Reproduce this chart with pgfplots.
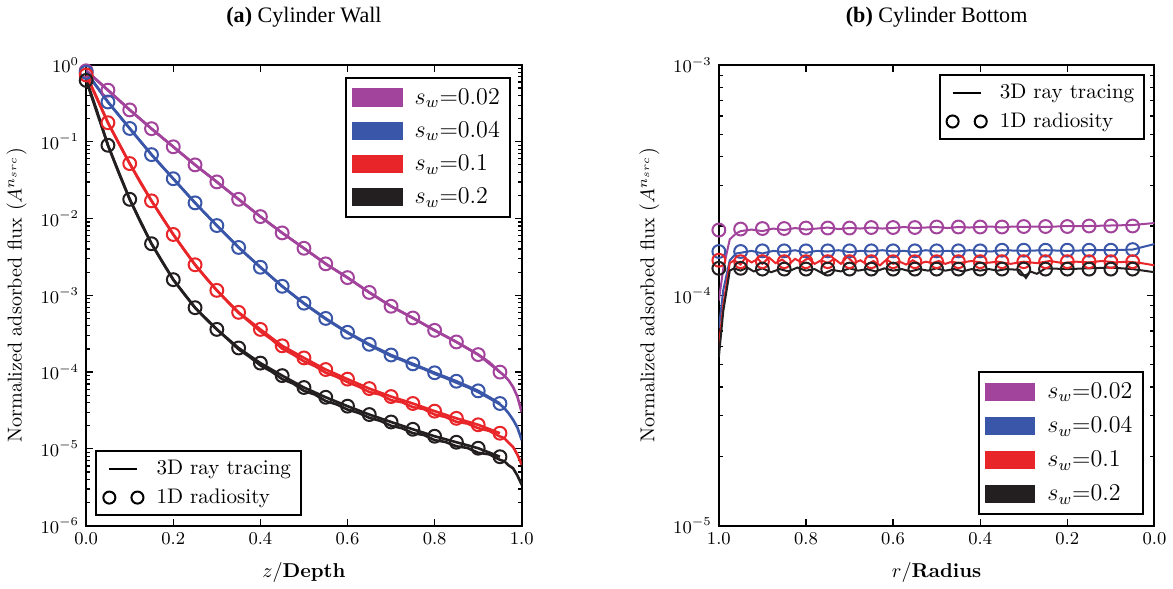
\documentclass[border=0pt]{standalone}
\usepackage{fontspec}
\newfontfamily\timesfont{Liberation Serif}
\usepackage{pgfplots}
\pgfplotsset{compat=1.18}

\definecolor{cpurple}{RGB}{162,68,156}
\definecolor{cblue}{RGB}{58,86,168}
\definecolor{cred}{RGB}{232,38,42}
\definecolor{cblack}{RGB}{35,31,32}

\begin{document}
\begin{tikzpicture}
% ---------------- (a) Cylinder Wall ----------------
\begin{axis}[
  scale only axis, width=217pt, height=229.5pt,
  ymode=log, xmin=0, xmax=1, ymin=1e-6, ymax=1,
  axis line style={line width=1pt},
  major tick length=3.5pt, minor tick length=2pt,
  tick align=inside, tick style={black, line width=0.6pt},
  xtick={0,0.2,0.4,0.6,0.8,1},
  xticklabels={0.0,0.2,0.4,0.6,0.8,1.0},
  tick label style={font=\fontsize{9}{10}\selectfont},
  label style={font=\fontsize{10}{12}\selectfont},
  xlabel style={yshift=-1.5pt},
  title style={font=\timesfont\fontsize{11}{13}\selectfont, yshift=9.5pt},
  title={\textbf{(a)} Cylinder Wall},
  xlabel={$z/$\textbf{Depth}},
  ylabel={Normalized adsorbed flux ($A^{n_{src}}$)},
  legend style={font=\fontsize{12}{14}\selectfont, draw=black, line width=1pt,
    at={(0.975,0.974)}, anchor=north east, row sep=3pt, inner xsep=3pt, inner ysep=3pt},
  legend cell align=left,
  legend image code/.code={\fill[#1] (0pt,-4.5pt) rectangle (25pt,4.5pt); \path (29pt,0pt);},
]
\addlegendimage{fill=cpurple, draw=none}\addlegendentry{$s_w$=0.02}
\addlegendimage{fill=cblue, draw=none}\addlegendentry{$s_w$=0.04}
\addlegendimage{fill=cred, draw=none}\addlegendentry{$s_w$=0.1}
\addlegendimage{fill=cblack, draw=none}\addlegendentry{$s_w$=0.2}

% 3D ray tracing
\addplot[cpurple, line width=1.3pt, forget plot] coordinates {
  (0,0.85)(0.05,0.47)(0.1,0.26)(0.15,0.148)(0.2,0.086)(0.25,0.05)(0.3,0.03)
  (0.35,0.0178)(0.4,0.0106)(0.45,0.0065)(0.5,0.0041)(0.55,0.00257)(0.6,0.0017)
  (0.65,0.00109)(0.7,7.2e-4)(0.75,5.07e-4)(0.8,3.5e-4)(0.85,2.47e-4)(0.9,1.69e-4)
  (0.925,1.35e-4)(0.95,1.0e-4)(0.96,9.0e-5)(0.97,7.8e-5)(0.98,6.4e-5)(0.99,4.8e-5)(1.0,3.0e-5)
};
\addplot[cblue, line width=1.3pt, forget plot] coordinates {
  (0,0.82)(0.05,0.33)(0.1,0.149)(0.15,0.068)(0.2,0.033)(0.25,0.016)(0.3,0.0081)
  (0.35,0.0042)(0.4,0.00232)(0.45,0.00131)(0.5,7.8e-4)(0.55,4.9e-4)(0.6,3.25e-4)
  (0.65,2.25e-4)(0.7,1.62e-4)(0.725,1.43e-4)(0.75,1.24e-4)(0.775,1.1e-4)(0.8,9.5e-5)
  (0.825,8.4e-5)(0.85,7.3e-5)(0.875,6.4e-5)(0.9,5.5e-5)(0.925,4.6e-5)(0.95,3.8e-5)
  (0.96,3.4e-5)(0.97,2.9e-5)(0.98,2.4e-5)(0.99,1.9e-5)(1.0,1.3e-5)
};
\addplot[cred, line width=1.3pt, forget plot] coordinates {
  (0,0.75)(0.025,0.37)(0.05,0.177)(0.075,0.095)(0.1,0.052)(0.125,0.029)(0.15,0.017)
  (0.175,0.0102)(0.2,0.0062)(0.225,0.0039)(0.25,0.0025)(0.275,0.00168)(0.3,0.00116)
  (0.325,8.2e-4)(0.35,5.9e-4)(0.375,4.5e-4)(0.4,3.38e-4)(0.425,2.68e-4)(0.45,2.02e-4)
  (0.475,1.7e-4)(0.5,1.38e-4)(0.525,1.2e-4)(0.55,9.8e-5)(0.575,8.7e-5)(0.6,7.4e-5)
  (0.625,6.5e-5)(0.65,5.5e-5)(0.675,5.1e-5)(0.7,4.3e-5)(0.725,4.05e-5)(0.75,3.5e-5)
  (0.775,3.3e-5)(0.8,2.8e-5)(0.825,2.6e-5)(0.85,2.25e-5)(0.875,2.14e-5)(0.9,1.86e-5)
  (0.925,1.72e-5)(0.95,1.45e-5)(0.96,1.38e-5)(0.97,1.2e-5)(0.98,1.06e-5)(0.99,8.4e-6)(1.0,6.2e-6)
};
\addplot[cblack, line width=1.3pt, forget plot] coordinates {
  (0,0.65)(0.025,0.25)(0.05,0.09)(0.075,0.039)(0.1,0.0178)(0.125,0.0089)(0.15,0.0047)
  (0.175,0.0027)(0.2,0.0016)(0.225,0.00104)(0.25,6.9e-4)(0.275,4.9e-4)(0.3,3.6e-4)
  (0.325,2.68e-4)(0.35,1.98e-4)(0.375,1.58e-4)(0.4,1.22e-4)(0.425,1.02e-4)(0.45,8.1e-5)
  (0.475,7.1e-5)(0.5,5.7e-5)(0.525,5.1e-5)(0.55,4.2e-5)(0.575,3.8e-5)(0.6,3.25e-5)
  (0.625,2.95e-5)(0.65,2.54e-5)(0.675,2.32e-5)(0.7,2.0e-5)(0.725,1.86e-5)(0.75,1.6e-5)
  (0.775,1.52e-5)(0.8,1.3e-5)(0.825,1.23e-5)(0.85,1.08e-5)(0.875,1.03e-5)(0.9,8.9e-6)
  (0.925,8.5e-6)(0.95,7.2e-6)(0.96,6.9e-6)(0.97,6.1e-6)(0.98,5.6e-6)(0.99,4.5e-6)(1.0,3.4e-6)
};

% 1D radiosity
\addplot[cpurple, line width=1.3pt, mark=o, mark size=3.2pt, mark options={fill=white, line width=1pt}, forget plot] coordinates {
  (0,0.84)(0.05,0.47)(0.1,0.26)(0.15,0.148)(0.2,0.086)(0.25,0.05)(0.3,0.03)
  (0.35,0.0178)(0.4,0.0106)(0.45,0.0065)(0.5,0.0041)(0.55,0.00257)(0.6,0.0017)
  (0.65,0.00109)(0.7,7.2e-4)(0.75,5.07e-4)(0.8,3.5e-4)(0.85,2.47e-4)(0.9,1.69e-4)(0.95,1.0e-4)
};
\addplot[cblue, line width=1.3pt, mark=o, mark size=3.2pt, mark options={fill=white, line width=1pt}, forget plot] coordinates {
  (0,0.8)(0.05,0.33)(0.1,0.149)(0.15,0.068)(0.2,0.033)(0.25,0.016)(0.3,0.0081)
  (0.35,0.0042)(0.4,0.00232)(0.45,0.00131)(0.5,7.9e-4)(0.55,5.0e-4)(0.6,3.3e-4)
  (0.65,2.3e-4)(0.7,1.67e-4)(0.75,1.28e-4)(0.8,9.8e-5)(0.85,7.6e-5)(0.9,5.7e-5)(0.95,3.9e-5)
};
\addplot[cred, line width=1.3pt, mark=o, mark size=3.2pt, mark options={fill=white, line width=1pt}, forget plot] coordinates {
  (0,0.74)(0.05,0.177)(0.1,0.052)(0.15,0.017)(0.2,0.0062)(0.25,0.0025)(0.3,1.16e-3)
  (0.35,6.0e-4)(0.4,3.6e-4)(0.45,2.2e-4)(0.5,1.53e-4)(0.55,1.08e-4)(0.6,8.1e-5)
  (0.65,6.1e-5)(0.7,4.8e-5)(0.75,3.9e-5)(0.8,3.1e-5)(0.85,2.5e-5)(0.9,2.06e-5)(0.95,1.6e-5)
};
\addplot[cblack, line width=1.3pt, mark=o, mark size=3.2pt, mark options={fill=white, line width=1pt}, forget plot] coordinates {
  (0,0.63)(0.05,0.09)(0.1,0.0178)(0.15,0.0047)(0.2,0.0016)(0.25,6.9e-4)(0.3,3.6e-4)
  (0.35,2.06e-4)(0.4,1.31e-4)(0.45,9.0e-5)(0.5,6.3e-5)(0.55,4.7e-5)(0.6,3.6e-5)
  (0.65,2.8e-5)(0.7,2.24e-5)(0.75,1.8e-5)(0.8,1.46e-5)(0.85,1.22e-5)(0.9,1.02e-5)(0.95,7.9e-6)
};
\end{axis}

% second legend of panel (a)
\begin{axis}[
  scale only axis, width=217pt, height=229.5pt, hide axis,
  xmin=0, xmax=1, ymin=0, ymax=1,
  legend style={font=\fontsize{10.5}{12}\selectfont, draw=black, line width=1pt,
    at={(0.021,0.02)}, anchor=south west, row sep=1.5pt, inner xsep=3pt, inner ysep=2.5pt},
  legend cell align=left,
]
\addlegendimage{legend image code/.code={\draw[black, line width=1.3pt] (0pt,0pt) -- (14pt,0pt); \path (21pt,0pt);}}
\addlegendentry{3D ray tracing}
\addlegendimage{legend image code/.code={\draw[black, line width=1pt, fill=white] (0pt,0pt) circle (3pt) (14pt,0pt) circle (3pt); \path (21pt,0pt);}}
\addlegendentry{1D radiosity}
\end{axis}

% ---------------- (b) Cylinder Bottom ----------------
\begin{axis}[at={(315.2pt,0pt)},
  scale only axis, width=217pt, height=229.5pt,
  ymode=log, xmin=0, xmax=1, ymin=1e-5, ymax=1e-3, x dir=reverse,
  axis line style={line width=1pt},
  major tick length=3.5pt, minor tick length=2pt,
  tick align=inside, tick style={black, line width=0.6pt},
  xtick={0,0.2,0.4,0.6,0.8,1},
  xticklabels={0.0,0.2,0.4,0.6,0.8,1.0},
  tick label style={font=\fontsize{9}{10}\selectfont},
  label style={font=\fontsize{10}{12}\selectfont},
  xlabel style={yshift=-1.5pt},
  title style={font=\timesfont\fontsize{11}{13}\selectfont, yshift=9.5pt},
  title={\textbf{(b)} Cylinder Bottom},
  xlabel={$r/$\textbf{Radius}},
  ylabel={Normalized adsorbed flux ($A^{n_{src}}$)},
  legend style={font=\fontsize{12}{14}\selectfont, draw=black, line width=1pt,
    at={(0.975,0.024)}, anchor=south east, row sep=3.5pt, inner xsep=3pt, inner ysep=3pt},
  legend cell align=left,
  legend image code/.code={\fill[#1] (0pt,-4.5pt) rectangle (25pt,4.5pt); \path (29pt,0pt);},
]
\addlegendimage{fill=cpurple, draw=none}\addlegendentry{$s_w$=0.02}
\addlegendimage{fill=cblue, draw=none}\addlegendentry{$s_w$=0.04}
\addlegendimage{fill=cred, draw=none}\addlegendentry{$s_w$=0.1}
\addlegendimage{fill=cblack, draw=none}\addlegendentry{$s_w$=0.2}

% 3D ray tracing
\addplot[cpurple, line width=1pt, forget plot] coordinates {
  (1.0,9.5e-5)(0.99,1.3e-4)(0.975,1.75e-4)(0.96,1.86e-4)(0.95,1.9e-4)(0.925,1.93e-4)
  (0.9,1.9e-4)(0.875,1.95e-4)(0.85,1.92e-4)(0.825,1.96e-4)(0.8,1.93e-4)(0.775,1.95e-4)
  (0.75,1.97e-4)(0.725,1.94e-4)(0.7,1.96e-4)(0.675,1.95e-4)(0.65,1.97e-4)(0.625,1.95e-4)
  (0.6,1.96e-4)(0.575,1.98e-4)(0.55,1.96e-4)(0.525,1.97e-4)(0.5,1.98e-4)(0.475,1.96e-4)
  (0.45,1.98e-4)(0.425,1.97e-4)(0.4,1.98e-4)(0.375,1.99e-4)(0.35,1.97e-4)(0.325,1.99e-4)
  (0.3,1.98e-4)(0.275,1.99e-4)(0.25,1.98e-4)(0.2,2.0e-4)(0.15,2.0e-4)(0.1,2.01e-4)
  (0.05,2.02e-4)(0.0,2.06e-4)
};
\addplot[cblue, line width=1pt, forget plot] coordinates {
  (1.0,7.2e-5)(0.99,1.05e-4)(0.975,1.42e-4)(0.96,1.52e-4)(0.95,1.53e-4)(0.925,1.56e-4)
  (0.9,1.52e-4)(0.875,1.56e-4)(0.85,1.54e-4)(0.825,1.57e-4)(0.8,1.53e-4)(0.775,1.56e-4)
  (0.75,1.55e-4)(0.725,1.57e-4)(0.7,1.54e-4)(0.675,1.56e-4)(0.65,1.55e-4)(0.625,1.57e-4)
  (0.6,1.55e-4)(0.575,1.56e-4)(0.55,1.54e-4)(0.525,1.57e-4)(0.5,1.55e-4)(0.475,1.56e-4)
  (0.45,1.55e-4)(0.425,1.57e-4)(0.4,1.56e-4)(0.375,1.55e-4)(0.35,1.57e-4)(0.3,1.56e-4)
  (0.25,1.57e-4)(0.2,1.56e-4)(0.15,1.57e-4)(0.1,1.57e-4)(0.05,1.58e-4)(0.0,1.67e-4)
};
\addplot[cred, line width=1pt, forget plot] coordinates {
  (1.0,6.0e-5)(0.99,9.0e-5)(0.975,1.38e-4)(0.965,1.42e-4)(0.95,1.36e-4)(0.94,1.45e-4)
  (0.925,1.39e-4)(0.91,1.44e-4)(0.9,1.37e-4)(0.885,1.46e-4)(0.87,1.38e-4)(0.855,1.43e-4)
  (0.84,1.36e-4)(0.825,1.44e-4)(0.81,1.39e-4)(0.795,1.45e-4)(0.78,1.37e-4)(0.765,1.42e-4)
  (0.75,1.38e-4)(0.735,1.44e-4)(0.72,1.37e-4)(0.705,1.47e-4)(0.69,1.38e-4)(0.675,1.42e-4)
  (0.66,1.36e-4)(0.645,1.41e-4)(0.63,1.35e-4)(0.615,1.43e-4)(0.6,1.37e-4)(0.585,1.40e-4)
  (0.57,1.36e-4)(0.555,1.42e-4)(0.54,1.37e-4)(0.525,1.40e-4)(0.51,1.38e-4)(0.495,1.41e-4)
  (0.48,1.37e-4)(0.465,1.40e-4)(0.45,1.38e-4)(0.42,1.41e-4)(0.39,1.38e-4)(0.36,1.40e-4)
  (0.33,1.37e-4)(0.3,1.40e-4)(0.27,1.38e-4)(0.24,1.41e-4)(0.21,1.38e-4)(0.18,1.40e-4)
  (0.15,1.39e-4)(0.12,1.41e-4)(0.09,1.39e-4)(0.06,1.40e-4)(0.03,1.38e-4)(0.0,1.35e-4)
};
\addplot[cblack, line width=1pt, forget plot] coordinates {
  (1.0,5.4e-5)(0.99,8.5e-5)(0.975,1.28e-4)(0.965,1.31e-4)(0.95,1.28e-4)(0.935,1.32e-4)
  (0.92,1.27e-4)(0.9,1.31e-4)(0.88,1.26e-4)(0.86,1.30e-4)(0.84,1.27e-4)(0.82,1.32e-4)
  (0.8,1.28e-4)(0.78,1.30e-4)(0.76,1.24e-4)(0.74,1.29e-4)(0.72,1.27e-4)(0.7,1.31e-4)
  (0.68,1.28e-4)(0.66,1.30e-4)(0.64,1.27e-4)(0.62,1.31e-4)(0.6,1.28e-4)(0.58,1.30e-4)
  (0.56,1.27e-4)(0.54,1.30e-4)(0.52,1.28e-4)(0.5,1.31e-4)(0.48,1.28e-4)(0.46,1.30e-4)
  (0.44,1.27e-4)(0.42,1.30e-4)(0.4,1.28e-4)(0.38,1.30e-4)(0.36,1.28e-4)(0.34,1.30e-4)
  (0.31,1.29e-4)(0.295,1.19e-4)(0.285,1.27e-4)(0.27,1.24e-4)(0.25,1.31e-4)(0.2,1.30e-4)
  (0.15,1.31e-4)(0.1,1.32e-4)(0.05,1.30e-4)(0.0,1.26e-4)
};

% 1D radiosity
\addplot[cpurple, only marks, mark=o, mark size=3.2pt, mark options={fill=white, line width=1pt}, forget plot] coordinates {
  (1.0,1.92e-4)(0.95,1.94e-4)(0.9,1.95e-4)(0.85,1.95e-4)(0.8,1.96e-4)(0.75,1.96e-4)
  (0.7,1.96e-4)(0.65,1.97e-4)(0.6,1.97e-4)(0.55,1.97e-4)(0.5,1.98e-4)(0.45,1.98e-4)
  (0.4,1.98e-4)(0.35,1.98e-4)(0.3,1.99e-4)(0.25,1.99e-4)(0.2,1.99e-4)(0.15,2.0e-4)
  (0.1,2.0e-4)(0.05,2.0e-4)
};
\addplot[cblue, only marks, mark=o, mark size=3.2pt, mark options={fill=white, line width=1pt}, forget plot] coordinates {
  (1.0,1.55e-4)(0.95,1.55e-4)(0.9,1.56e-4)(0.85,1.56e-4)(0.8,1.56e-4)(0.75,1.56e-4)
  (0.7,1.56e-4)(0.65,1.56e-4)(0.6,1.56e-4)(0.55,1.56e-4)(0.5,1.56e-4)(0.45,1.56e-4)
  (0.4,1.56e-4)(0.35,1.57e-4)(0.3,1.57e-4)(0.25,1.57e-4)(0.2,1.57e-4)(0.15,1.57e-4)
  (0.1,1.57e-4)(0.05,1.58e-4)
};
\addplot[cred, only marks, mark=o, mark size=3.2pt, mark options={fill=white, line width=1pt}, forget plot] coordinates {
  (1.0,1.42e-4)(0.95,1.40e-4)(0.9,1.40e-4)(0.85,1.40e-4)(0.8,1.40e-4)(0.75,1.40e-4)
  (0.7,1.40e-4)(0.65,1.40e-4)(0.6,1.40e-4)(0.55,1.40e-4)(0.5,1.40e-4)(0.45,1.40e-4)
  (0.4,1.40e-4)(0.35,1.40e-4)(0.3,1.40e-4)(0.25,1.40e-4)(0.2,1.40e-4)(0.15,1.40e-4)
  (0.1,1.40e-4)(0.05,1.40e-4)
};
\addplot[cblack, only marks, mark=o, mark size=3.2pt, mark options={fill=white, line width=1pt}, forget plot] coordinates {
  (1.0,1.31e-4)(0.95,1.31e-4)(0.9,1.30e-4)(0.85,1.30e-4)(0.8,1.30e-4)(0.75,1.30e-4)
  (0.7,1.30e-4)(0.65,1.30e-4)(0.6,1.30e-4)(0.55,1.30e-4)(0.5,1.30e-4)(0.45,1.30e-4)
  (0.4,1.30e-4)(0.35,1.30e-4)(0.3,1.30e-4)(0.25,1.30e-4)(0.2,1.30e-4)(0.15,1.30e-4)
  (0.1,1.30e-4)(0.05,1.30e-4)
};
\end{axis}

% second legend of panel (b)
\begin{axis}[at={(315.2pt,0pt)},
  scale only axis, width=217pt, height=229.5pt, hide axis,
  xmin=0, xmax=1, ymin=0, ymax=1,
  legend style={font=\fontsize{10.5}{12}\selectfont, draw=black, line width=1pt,
    at={(0.979,0.98)}, anchor=north east, row sep=1.5pt, inner xsep=3pt, inner ysep=2.5pt},
  legend cell align=left,
]
\addlegendimage{legend image code/.code={\draw[black, line width=1.3pt] (0pt,0pt) -- (14pt,0pt); \path (21pt,0pt);}}
\addlegendentry{3D ray tracing}
\addlegendimage{legend image code/.code={\draw[black, line width=1pt, fill=white] (0pt,0pt) circle (3pt) (14pt,0pt) circle (3pt); \path (21pt,0pt);}}
\addlegendentry{1D radiosity}
\end{axis}
\end{tikzpicture}
\end{document}
